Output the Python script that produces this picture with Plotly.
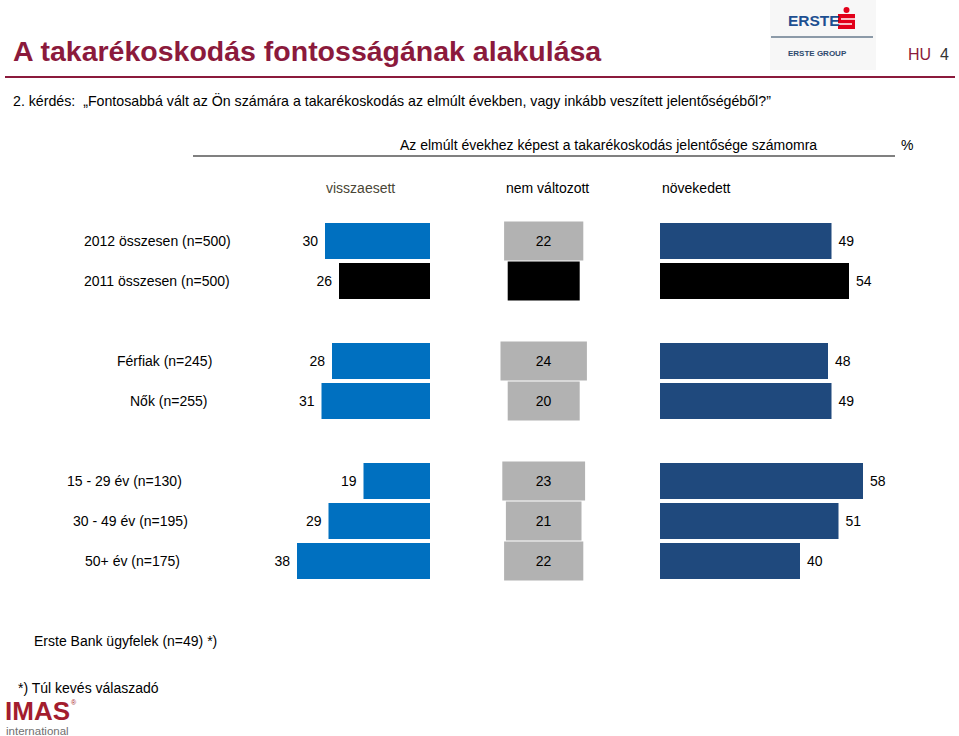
import plotly.graph_objects as go

# ---------------- data ----------------
row_labels = [
    "2012 összesen (n=500)",
    "2011 összesen (n=500)",
    "Férfiak (n=245)",
    "Nők (n=255)",
    "15 - 29 év (n=130)",
    "30 - 49 év (n=195)",
    "50+ év (n=175)",
    "Erste Bank ügyfelek (n=49) *)",
]
visszaesett = [30, 26, 28, 31, 19, 29, 38, None]
nem_valtozott = [22, 20, 24, 20, 23, 21, 22, None]
novekedett = [49, 54, 48, 49, 58, 51, 40, None]
column_headers = ["visszaesett", "nem változott", "növekedett"]

# ---------------- layout helpers ----------------
W, H = 959, 736
FONT = "Liberation Sans, Arial, sans-serif"
MAROON = "#8B1A3C"
FS = 14

def px(x):
    return x / W

def py(y):
    return 1 - y / H

# category order with blank spacer slots between groups
spacers = [" ", "  ", "   "]
cat_order = [row_labels[0], row_labels[1], spacers[0],
             row_labels[2], row_labels[3], spacers[1],
             row_labels[4], row_labels[5], row_labels[6], spacers[2],
             row_labels[7]]

# per-row label centres (px)
label_x = [157, 157, 164, 168, 124, 130, 132, 125]

prior = [lab.startswith("2011") for lab in row_labels]
c_left = ["#000000" if p else "#0070C0" for p in prior]
c_mid = ["#000000" if p else "#B2B2B2" for p in prior]
c_right = ["#000000" if p else "#1F497D" for p in prior]

fig = go.Figure()

# helper invisible trace so that all slots exist on the category axis
fig.add_trace(go.Scatter(x=[0] * len(cat_order), y=cat_order, mode="markers",
                         marker=dict(opacity=0), hoverinfo="skip",
                         showlegend=False, xaxis="x3", yaxis="y"))

fig.add_trace(go.Bar(
    y=row_labels, x=visszaesett, orientation="h", xaxis="x", yaxis="y",
    marker=dict(color=c_left, line=dict(width=0)), width=0.9,
    text=[("" if v is None else f"{v}\u00a0") for v in visszaesett],
    textposition="outside", constraintext="none", cliponaxis=False,
    textfont=dict(family=FONT, size=FS, color="#000000"),
    showlegend=False, hoverinfo="skip"))

fig.add_trace(go.Bar(
    y=row_labels, x=nem_valtozott,
    base=[(None if v is None else -v / 2) for v in nem_valtozott],
    orientation="h", xaxis="x2", yaxis="y",
    marker=dict(color=c_mid, line=dict(width=0)), width=0.98,
    text=[("" if v is None else f"{v}") for v in nem_valtozott],
    textposition="inside", insidetextanchor="middle", constraintext="none",
    insidetextfont=dict(family=FONT, size=FS, color="#000000"),
    showlegend=False, hoverinfo="skip"))

fig.add_trace(go.Bar(
    y=row_labels, x=novekedett, orientation="h", xaxis="x3", yaxis="y",
    marker=dict(color=c_right, line=dict(width=0)), width=0.9,
    text=[("" if v is None else f"\u00a0{v}") for v in novekedett],
    textposition="outside", constraintext="none", cliponaxis=False,
    textfont=dict(family=FONT, size=FS, color="#000000"),
    showlegend=False, hoverinfo="skip"))

hidden = dict(showgrid=False, zeroline=False, showticklabels=False,
              showline=False, ticks="", fixedrange=True)

fig.update_layout(
    width=W, height=H,
    margin=dict(l=0, r=0, t=0, b=0, autoexpand=False),
    paper_bgcolor="white", plot_bgcolor="rgba(0,0,0,0)",
    font=dict(family=FONT, size=FS, color="#000000"),
    bargap=0.1,
    xaxis=dict(domain=[px(255), px(430)], range=[50, 0], **hidden),
    xaxis2=dict(domain=[px(471.7), px(615.7)], range=[-20, 20], **hidden),
    xaxis3=dict(domain=[px(660), px(905)], range=[0, 70], **hidden),
    yaxis=dict(domain=[py(661), py(221)], type="category",
               categoryorder="array", categoryarray=cat_order,
               range=[len(cat_order) - 0.5, -0.5], **hidden),
)

ann = []
# row labels
for lab, lx in zip(row_labels, label_x):
    ann.append(dict(text=lab, x=px(lx), xref="paper", y=lab, yref="y",
                    xanchor="center", yanchor="middle", showarrow=False,
                    font=dict(size=FS, color="#000000")))

# title, subtitle, headers
ann += [
    dict(text="<b>A takarékoskodás fontosságának alakulása</b>", x=px(11), y=py(51),
         xanchor="left", yanchor="middle", font=dict(size=28.5, color=MAROON)),
    dict(text="2. kérdés:  „Fontosabbá vált az Ön számára a takarékoskodás az elmúlt években, vagy inkább veszített jelentőségéből?”",
         x=px(11), y=py(101), xanchor="left", yanchor="middle",
         font=dict(size=14.2, color="#000000")),
    dict(text="Az elmúlt évekhez képest a takarékoskodás jelentősége számomra",
         x=px(608), y=py(145), xanchor="center", yanchor="middle",
         font=dict(size=FS, color="#000000")),
    dict(text="%", x=px(907), y=py(145), xanchor="center", yanchor="middle",
         font=dict(size=FS, color="#000000")),
    dict(text=column_headers[0], x=px(360), y=py(188), xanchor="center", yanchor="middle",
         font=dict(size=FS, color="#4A4636")),
    dict(text=column_headers[1], x=px(547), y=py(188), xanchor="center", yanchor="middle",
         font=dict(size=FS, color="#000000")),
    dict(text=column_headers[2], x=px(696), y=py(188), xanchor="center", yanchor="middle",
         font=dict(size=FS, color="#000000")),
    dict(text="*) Túl kevés válaszadó", x=px(16), y=py(688), xanchor="left", yanchor="middle",
         font=dict(size=FS, color="#000000")),
    # HU 4
    dict(text=f"<span style='color:{MAROON}'>HU</span>  <span style='color:#333333'>4</span>",
         x=px(951), y=py(55), xanchor="right", yanchor="middle",
         font=dict(size=16)),
    # IMAS logo
    dict(text="<b>IMAS</b>", x=px(3), y=py(711), xanchor="left", yanchor="middle",
         font=dict(size=26, color="#A31D2E", family="Liberation Sans, Arial, sans-serif")),
    dict(text="®", x=px(74), y=py(702), xanchor="center", yanchor="middle",
         font=dict(size=7, color="#A31D2E")),
    dict(text="international", x=px(4), y=py(731), xanchor="left", yanchor="middle",
         font=dict(size=11.5, color="#707070")),
    # ERSTE logo
    dict(text="<b>ERSTE</b>", x=px(786), y=py(20), xanchor="left", yanchor="middle",
         font=dict(size=15.5, color="#1D4F91", family="Liberation Sans Narrow, Arial Narrow, sans-serif")),
    dict(text="<b>ERSTE GROUP</b>", x=px(786), y=py(53), xanchor="left", yanchor="middle",
         font=dict(size=8, color="#2E4A6E", family="Liberation Sans Narrow, Arial Narrow, sans-serif")),
]
for a in ann:
    a.setdefault("xref", "paper")
    a.setdefault("yref", "paper")
    a["showarrow"] = False
fig.update_layout(annotations=ann)

shapes = [
    # logo background
    dict(type="rect", xref="paper", yref="paper", x0=px(770), x1=px(876), y0=py(70), y1=py(0),
         fillcolor="#F7F7F7", line=dict(width=0), layer="below"),
    # logo separator
    dict(type="line", xref="paper", yref="paper", x0=px(771), x1=px(873), y0=py(37), y1=py(37),
         line=dict(color="#8C9AA8", width=2)),
    # Sparkasse-like red symbol
    dict(type="rect", xref="paper", yref="paper", x0=px(838), x1=px(855), y0=py(29), y1=py(14),
         fillcolor="#E2001A", line=dict(width=0)),
    dict(type="circle", xref="paper", yref="paper", x0=px(843.5), x1=px(849.5), y0=py(13), y1=py(7),
         fillcolor="#E2001A", line=dict(width=0)),
    dict(type="line", xref="paper", yref="paper", x0=px(841), x1=px(855), y0=py(19), y1=py(19),
         line=dict(color="white", width=1.5)),
    dict(type="line", xref="paper", yref="paper", x0=px(838), x1=px(852), y0=py(24), y1=py(24),
         line=dict(color="white", width=1.5)),
    # maroon title rule
    dict(type="line", xref="paper", yref="paper", x0=px(5), x1=px(955), y0=py(77), y1=py(77),
         line=dict(color=MAROON, width=2)),
    # grey header rule
    dict(type="line", xref="paper", yref="paper", x0=px(193), x1=px(895), y0=py(156), y1=py(156),
         line=dict(color="#808080", width=2)),
]
fig.update_layout(shapes=shapes)

fig.write_html(
    "out.html",
    config={"displayModeBar": False},
    post_script="document.body.style.margin='0px';document.body.style.overflow='hidden';",
)
